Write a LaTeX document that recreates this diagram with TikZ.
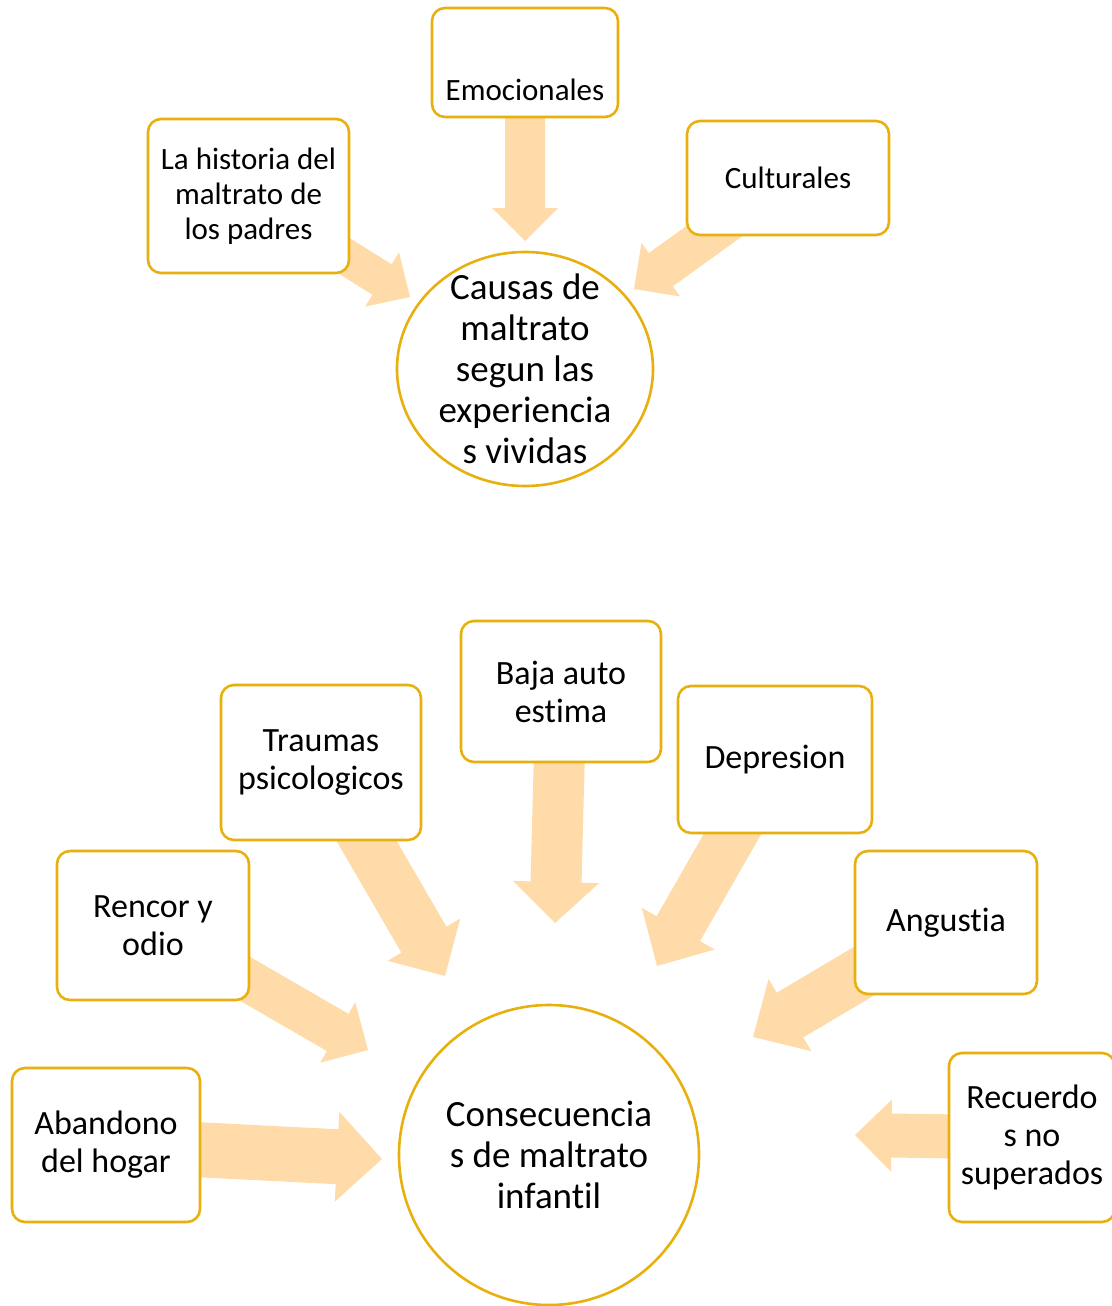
\documentclass[tikz,border=0pt]{standalone}
\usepackage{fontspec}
\setmainfont{Carlito}[Ligatures=NoCommon]
\usetikzlibrary{calc,shapes.geometric}
\pgfdeclarelayer{bg}
\pgfsetlayers{bg,main}
\definecolor{boxline}{RGB}{232,176,14}
\definecolor{arrfill}{RGB}{254,219,168}
% block arrow: #1 tail, #2 tip, #3 half shaft width, #4 half head width, #5 head length
\newcommand\blockarr[5]{%
  \coordinate (#2-b) at ($(#2)!#5pt!(#1)$);
  \fill[arrfill] ($(#1)!#3pt!90:(#2)$) -- ($(#2-b)!#3pt!90:(#2)$) -- ($(#2-b)!#4pt!90:(#2)$)
    -- (#2) -- ($(#2-b)!#4pt!-90:(#2)$) -- ($(#2-b)!#3pt!-90:(#2)$) -- ($(#1)!#3pt!-90:(#2)$) -- cycle;}
\begin{document}
\begin{tikzpicture}[x=1pt,y=-1pt,
  box/.style={draw=boxline,line width=2.6pt,rounded corners=13pt,fill=white,align=center,inner sep=0pt},
  ftop/.style={font=\fontsize{31}{35}\selectfont},
  fbot/.style={font=\fontsize{34}{38}\selectfont},
  fcirc/.style={font=\fontsize{37}{41}\selectfont}]
\useasboundingbox (0,0) rectangle (1111,1306);
% top group
\node[box,ftop,minimum width=186pt,minimum height=109pt] (emo) at (525,62.5) {};
\node[ftop,inner sep=0pt] (emotext) at (525,90) {Emocionales};
\node[box,ftop,minimum width=201pt,minimum height=154pt] (hist) at (248.5,196) {La historia del\\maltrato de\\los padres};
\node[box,ftop,minimum width=202pt,minimum height=114pt] (cult) at (788,178) {Culturales};
\node[draw=boxline,line width=2.6pt,ellipse,fill=white,inner sep=0pt,minimum width=256pt,minimum height=234pt] (causas) at (525,369) {};
\node[fcirc,align=center,inner sep=0pt] (causastext) at (525,369) {Causas de\\maltrato\\segun las\\experiencia\\s vividas};
\coordinate (t1) at (525,241);
\coordinate (t2) at (410,297);
\coordinate (t3) at (634,289);
% bottom group
\node[box,fbot,minimum width=200pt,minimum height=141pt] (baja) at (561,691.5) {Baja auto\\estima};
\node[box,fbot,minimum width=200pt,minimum height=155pt] (trau) at (321,762.5) {Traumas\\psicologicos};
\node[box,fbot,minimum width=194pt,minimum height=147pt] (depre) at (775,759.5) {Depresion};
\node[box,fbot,minimum width=192pt,minimum height=149pt] (rencor) at (153,925.5) {Rencor y\\odio};
\node[box,fbot,minimum width=182pt,minimum height=143pt] (angus) at (946,922.5) {Angustia};
\node[box,fbot,minimum width=188pt,minimum height=154pt] (aban) at (106,1145) {Abandono\\del hogar};
\node[box,fbot,minimum width=166pt,minimum height=169pt] (recu) at (1032,1137.5) {Recuerdo\\s no\\superados};
\node[draw=boxline,line width=2.6pt,circle,fill=white,inner sep=0pt,minimum size=300pt,align=center,fcirc] (conse) at (549,1155) {Consecuencia\\s de maltrato\\infantil};
\coordinate (t4) at (555,923);
\coordinate (t5) at (445,976);
\coordinate (t6) at (657,966);
\coordinate (t7) at (368,1050);
\coordinate (t8) at (753,1037);
\coordinate (t9) at (382,1159);
\coordinate (t10) at (855,1135);
\begin{pgfonlayer}{bg}
\blockarr{emo.center}{t1}{20}{33}{33}
\blockarr{hist.center}{t2}{18}{32}{33}
\blockarr{cult.center}{t3}{20.5}{33}{33}
\blockarr{baja.center}{t4}{25.5}{43}{41}
\blockarr{trau.center}{t5}{26}{42}{42}
\blockarr{depre.center}{t6}{25}{42}{43}
\blockarr{rencor.center}{t7}{21.5}{35}{35}
\blockarr{angus.center}{t8}{26}{42}{43}
\blockarr{aban.center}{t9}{27.5}{45}{45}
\blockarr{recu.center}{t10}{22}{36}{36.5}
\end{pgfonlayer}
\end{tikzpicture}
\end{document}
